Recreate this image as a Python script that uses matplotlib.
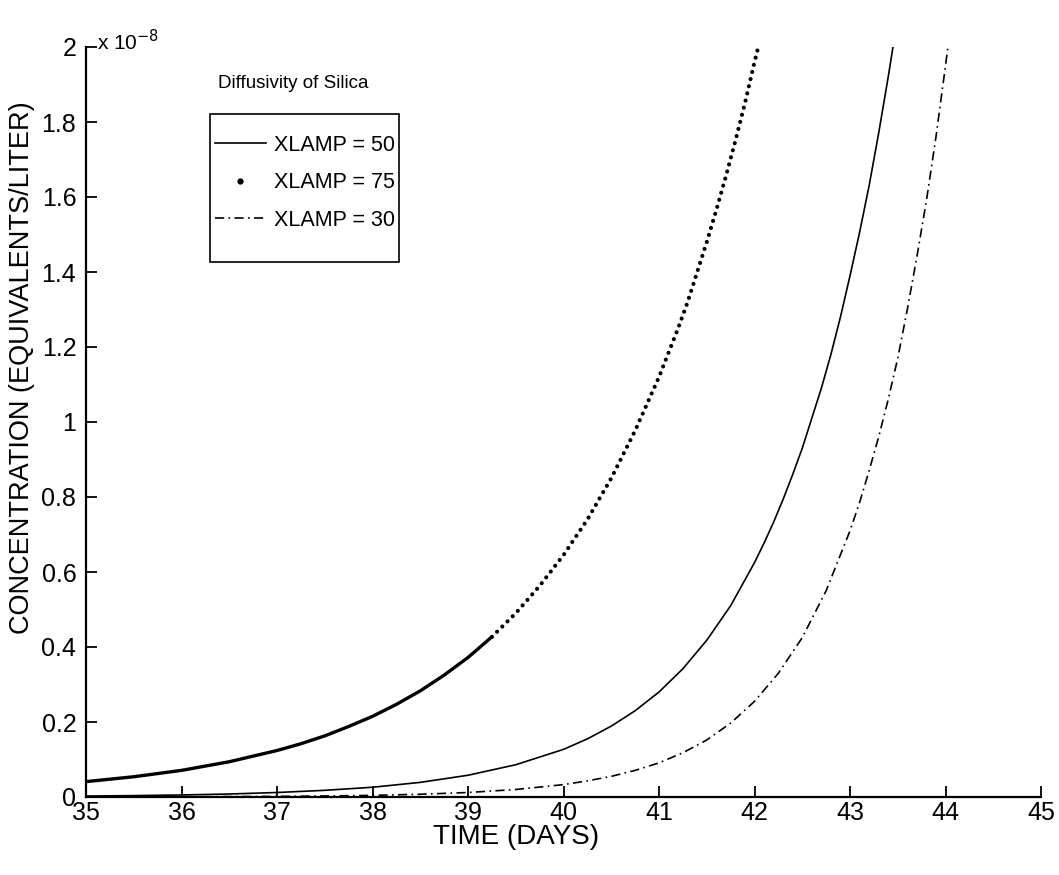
import matplotlib
matplotlib.use("Agg")
import matplotlib.pyplot as plt
from matplotlib.lines import Line2D
from matplotlib.patches import Rectangle

plt.rcParams['font.family'] = ['Liberation Sans', 'DejaVu Sans']

# concentration in units of 1e-8 equivalents/liter
x50 = [35, 35.5, 36, 36.5, 37, 37.5, 38, 38.5, 39, 39.5, 40, 40.25, 40.5,
       40.75, 41, 41.25, 41.5, 41.75, 42, 42.1, 42.2, 42.3, 42.4, 42.5, 42.6,
       42.7, 42.8, 42.9, 43, 43.1, 43.2, 43.3, 43.4, 43.45]
y50 = [0.0025, 0.0037, 0.0054, 0.008, 0.012, 0.0178, 0.026, 0.039, 0.058,
       0.086, 0.127, 0.155, 0.189, 0.23, 0.28, 0.342, 0.418, 0.51, 0.625,
       0.677, 0.733, 0.794, 0.86, 0.93, 1.01, 1.09, 1.18, 1.28, 1.39, 1.505,
       1.63, 1.77, 1.92, 2.0]

x75 = [35, 35.5, 36, 36.5, 37, 37.25, 37.5, 37.75, 38, 38.25, 38.5, 38.75,
       39, 39.25, 39.5, 39.75, 40, 40.25, 40.5, 40.75, 41, 41.1, 41.2, 41.3,
       41.4, 41.5, 41.6, 41.7, 41.8, 41.9, 42, 42.05]
y75 = [0.041, 0.054, 0.071, 0.094, 0.124, 0.142, 0.163, 0.188, 0.215, 0.247,
       0.283, 0.325, 0.372, 0.427, 0.49, 0.563, 0.645, 0.74, 0.85, 0.977,
       1.12, 1.185, 1.25, 1.32, 1.40, 1.48, 1.565, 1.655, 1.75, 1.85, 1.96,
       2.01]

x30 = [35, 36, 37, 37.5, 38, 38.5, 39, 39.5, 40, 40.25, 40.5, 40.75, 41,
       41.25, 41.5, 41.75, 42, 42.25, 42.5, 42.75, 43, 43.1, 43.2, 43.3, 43.4,
       43.5, 43.6, 43.7, 43.8, 43.9, 44, 44.05]
y30 = [0.0002, 0.0006, 0.0016, 0.0027, 0.0044, 0.0073, 0.012, 0.020, 0.033,
       0.043, 0.055, 0.071, 0.091, 0.118, 0.152, 0.197, 0.255, 0.33, 0.425,
       0.55, 0.71, 0.785, 0.87, 0.96, 1.06, 1.17, 1.30, 1.44, 1.59, 1.76,
       1.95, 2.05]

xticks = [35, 36, 37, 38, 39, 40, 41, 42, 43, 44, 45]
yticks = [0, 0.2, 0.4, 0.6, 0.8, 1, 1.2, 1.4, 1.6, 1.8, 2]
ytick_labels = ['0', '0.2', '0.4', '0.6', '0.8', '1', '1.2', '1.4', '1.6', '1.8', '2']
labels = ['XLAMP = 50', 'XLAMP = 75', 'XLAMP = 30']

DASHDOT = (0, (5.5, 2.6, 1.0, 2.6))

fig = plt.figure(figsize=(10.59, 8.75), dpi=100)
ax = fig.add_axes([86 / 1059, 1 - 797 / 875, 955 / 1059, 750 / 875])

ax.plot(x50, y50, color='black', lw=1.2)

# XLAMP = 75: dense dots merge into a thick trace where the curve is flat
n = x75.index(39.25)
ax.plot(x75[:n + 1], y75[:n + 1], color='black', lw=2.4,
        solid_capstyle='round', solid_joinstyle='round')
ax.plot(x75[n:], y75[n:], color='black', lw=3.0, linestyle=(0, (0.01, 1.75)),
        dash_capstyle='round')

ax.plot(x30, y30, color='black', lw=1.2, linestyle=DASHDOT)

ax.set_xlim(35, 45)
ax.set_ylim(0, 2)
ax.set_xticks(xticks)
ax.set_xticklabels([str(t) for t in xticks])
ax.set_yticks(yticks)
ax.set_yticklabels(ytick_labels)
ax.tick_params(direction='in', length=8, width=1.3, labelsize=18)
ax.tick_params(axis='x', pad=3)
ax.tick_params(axis='y', pad=7)

for side in ['top', 'right']:
    ax.spines[side].set_visible(False)
for side in ['left', 'bottom']:
    ax.spines[side].set_linewidth(1.6)

ax.set_xlabel('TIME (DAYS)', fontsize=20)
ax.xaxis.set_label_coords(0.45, -0.036)
ax.set_ylabel('CONCENTRATION (EQUIVALENTS/LITER)', fontsize=19.5)
ax.yaxis.set_label_coords(-0.053, 0.572)

fig.text(97 / 1059, 1 - 50 / 875, r'x 10$^{-8}$', fontsize=15,
         ha='left', va='baseline')

# legend box with its caption above it
fig.patches.append(Rectangle((210 / 1059, 1 - 262 / 875), 189 / 1059, 148 / 875,
                             transform=fig.transFigure, fill=False,
                             edgecolor='black', lw=1.2))
handles = [Line2D([], [], color='black', lw=1.2),
           Line2D([], [], color='black', ls='none', marker='o', markersize=3.5),
           Line2D([], [], color='black', lw=1.2, linestyle=DASHDOT)]
ax.legend(handles, labels, loc='upper left',
          bbox_to_anchor=(215 / 1059, 1 - 135 / 875),
          bbox_transform=fig.transFigure, fontsize=15.5, frameon=False,
          borderaxespad=0, borderpad=0, handlelength=2.35,
          handletextpad=0.38, labelspacing=0.76)

fig.text(218 / 1059, 1 - 83 / 875, 'Diffusivity of Silica', fontsize=13.5,
         ha='left', va='center')

fig.savefig('out.png', dpi=100)
